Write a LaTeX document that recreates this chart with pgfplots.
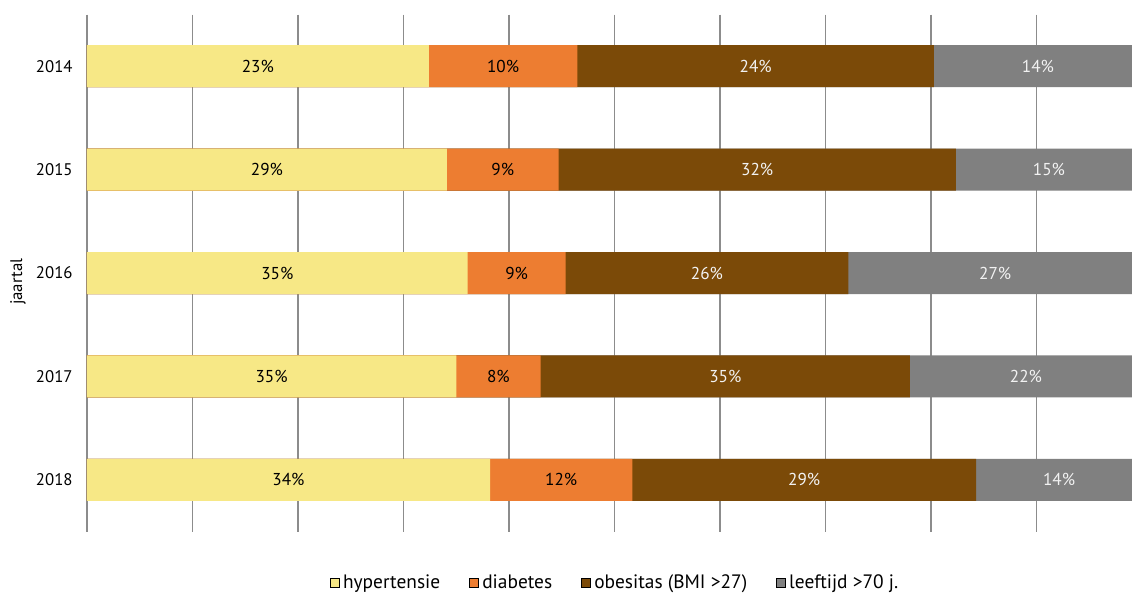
\documentclass[border=0pt]{standalone}
\usepackage{pgfplots}
\usepackage{pgfplotstable}
\pgfplotsset{compat=1.18}
\usepackage{fontspec}
\setmainfont{PT Sans}

\definecolor{cHyp}{HTML}{F7E886}
\definecolor{cDia}{HTML}{ED7D31}
\definecolor{cObe}{HTML}{7B4A08}
\definecolor{cLft}{HTML}{808080}
\definecolor{cGrid}{HTML}{8C8C8C}
\definecolor{cLight}{HTML}{F2F2F2}

% risk factors per year (percentages as reported)
\pgfplotstableread{
idx jaar hyp dia obe lft
0 2014 23 10 24 14
1 2015 29 9 32 15
2 2016 35 9 26 27
3 2017 35 8 35 22
4 2018 34 12 29 14
}\risico
\pgfplotstablecreatecol[create col/expr={\thisrow{hyp}+\thisrow{dia}+\thisrow{obe}+\thisrow{lft}}]{tot}\risico

\pgfplotsset{
  segment/.style={xbar, bar width=21pt, bar shift=0pt, draw=none, fill=#1, forget plot},
  seglabel/.style={draw=none, mark=none, forget plot,
    nodes near coords={\pgfplotspointmeta\%},
    point meta=explicit symbolic,
    every node near coord/.append style={anchor=center, text=#1,
      font=\fontsize{8.6}{10}\selectfont}},
}

\begin{document}
\begin{tikzpicture}
\begin{axis}[
  at={(43.5pt,31.25pt)}, anchor=south west,
  scale only axis, width=522.5pt, height=258.5pt,
  xmin=0, xmax=99.05, ymin=-0.5, ymax=4.5, y dir=reverse,
  axis line style={draw=none},
  xtick={0,10,...,90}, xticklabels={},
  xmajorgrids, grid style={cGrid, line width=0.75pt},
  major tick length=0pt,
  ytick={0,...,4}, yticklabels={2014,2015,2016,2017,2018},
  yticklabel style={font=\fontsize{8.4}{10}\selectfont, anchor=east, inner sep=0pt, xshift=-7pt},
  ylabel={jaartal},
  every axis y label/.style={at={(axis description cs:-0.066,0.483)}, anchor=center, rotate=90,
    font=\fontsize{8.4}{10}\selectfont},
  legend image code/.code={\fill[#1] (0pt,-2.25pt) rectangle (4.5pt,2.25pt);},
  legend style={at={(axis description cs:0.506,-0.0996)}, anchor=center, draw=none,
    legend columns=4, font=\fontsize{9.7}{11}\selectfont, inner sep=0pt,
    /tikz/every even column/.append style={column sep=12.5pt},
    nodes={inner sep=1.8pt}},
  legend cell align=left,
]
% segments drawn back to front as cumulative shares of each year's total
\addplot[segment=cLft] table[y=idx, x expr={100}] \risico;
\addplot[segment=cObe] table[y=idx, x expr={100*(\thisrow{hyp}+\thisrow{dia}+\thisrow{obe})/\thisrow{tot}}] \risico;
\addplot[segment=cDia] table[y=idx, x expr={100*(\thisrow{hyp}+\thisrow{dia})/\thisrow{tot}}] \risico;
\addplot[segment=cHyp] table[y=idx, x expr={100*\thisrow{hyp}/\thisrow{tot}}] \risico;

% value labels centred in each segment
\addplot[seglabel=black] table[y=idx, meta=hyp, x expr={100*(\thisrow{hyp}/2)/\thisrow{tot}}] \risico;
\addplot[seglabel=black] table[y=idx, meta=dia, x expr={100*(\thisrow{hyp}+\thisrow{dia}/2)/\thisrow{tot}}] \risico;
\addplot[seglabel=cLight] table[y=idx, meta=obe, x expr={100*(\thisrow{hyp}+\thisrow{dia}+\thisrow{obe}/2)/\thisrow{tot}}] \risico;
\addplot[seglabel=cLight] table[y=idx, meta=lft, x expr={100*(\thisrow{hyp}+\thisrow{dia}+\thisrow{obe}+\thisrow{lft}/2)/\thisrow{tot}}] \risico;

\addlegendimage{fill=cHyp}\addlegendentry{hypertensie}
\addlegendimage{fill=cDia}\addlegendentry{diabetes}
\addlegendimage{fill=cObe}\addlegendentry{obesitas (BMI >27)}
\addlegendimage{fill=cLft}\addlegendentry{leeftijd >70 j.}
\end{axis}
\pgfresetboundingbox
\useasboundingbox (0,0) rectangle (566pt,297pt);
\end{tikzpicture}
\end{document}
